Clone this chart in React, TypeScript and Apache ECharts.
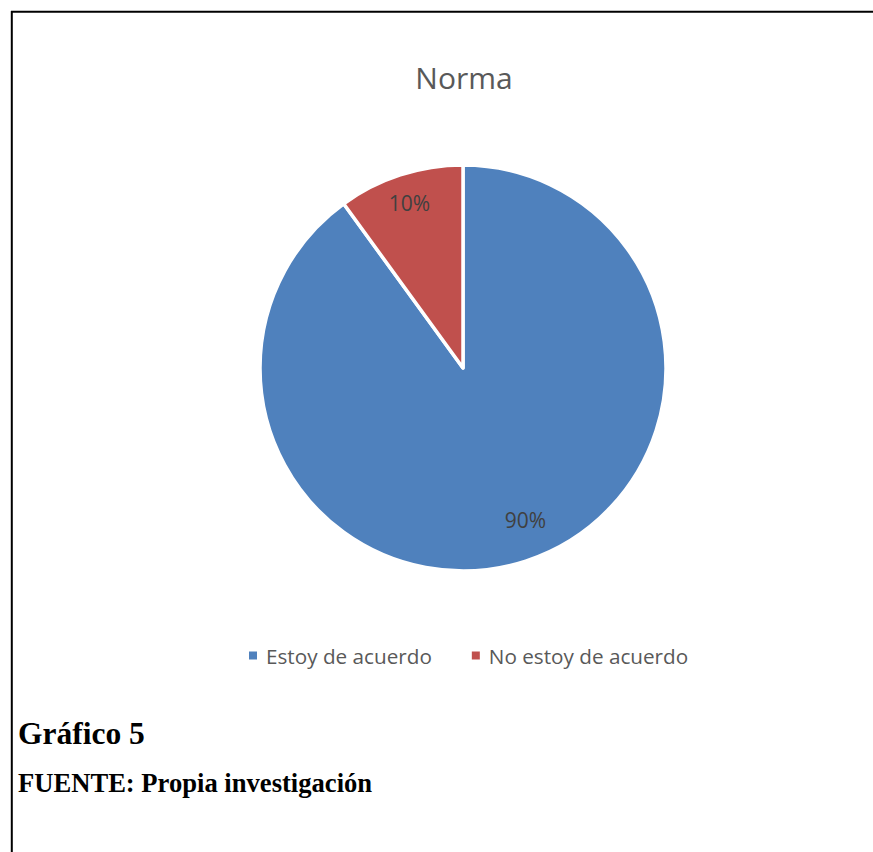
import React, { useEffect, useRef } from "react";
import * as echarts from "echarts";

const categories = ["Estoy de acuerdo", "No estoy de acuerdo"];
const values = [90, 10];
const colors = ["#4F81BD", "#C0504D"];
const chartTitle = "Norma";
const captionTitle = "Gráfico 5";
const captionSource = "FUENTE: Propia investigación";

const SANS = "'Open Sans', 'Noto Sans', sans-serif";
const SERIF = "'Liberation Serif', 'DejaVu Serif', serif";

export default function App() {
  const ref = useRef<HTMLDivElement>(null);
  useEffect(() => {
    if (!ref.current) return;
    const chart = echarts.init(ref.current, null, { renderer: "svg" });
    const data = categories.map((name, i) => ({
      name,
      value: values[i],
      itemStyle: { color: colors[i] },
    }));
    chart.setOption({
      animation: false,
      backgroundColor: "#ffffff",
      legend: {
        data: categories,
        left: 242,
        top: 640,
        icon: "rect",
        itemWidth: 10,
        itemHeight: 10,
        itemGap: 38,
        textStyle: {
          fontFamily: SANS,
          fontSize: 20.7,
          color: "#595959",
          padding: [0, 0, 0, 3],
        },
        selectedMode: false,
      },
      graphic: [
        {
          type: "line",
          shape: { x1: 11, y1: 11.8, x2: 873, y2: 11.8 },
          style: { stroke: "#000", lineWidth: 2 },
        },
        {
          type: "line",
          shape: { x1: 11.8, y1: 11, x2: 11.8, y2: 852 },
          style: { stroke: "#000", lineWidth: 2 },
        },
        {
          type: "text",
          x: 464,
          y: 77,
          style: {
            text: chartTitle,
            font: `30px ${SANS}`,
            fill: "#595959",
            align: "center",
            verticalAlign: "middle",
          },
        },
        {
          type: "text",
          x: 18,
          y: 733,
          style: {
            text: captionTitle,
            font: `bold 31.5px ${SERIF}`,
            fill: "#000",
            align: "left",
            verticalAlign: "middle",
          },
        },
        {
          type: "text",
          x: 18,
          y: 783,
          style: {
            text: captionSource,
            font: `bold 26.6px ${SERIF}`,
            fill: "#000",
            align: "left",
            verticalAlign: "middle",
          },
        },
      ],
      series: [
        {
          type: "pie",
          center: [463, 368],
          radius: [0, 203],
          startAngle: 90,
          clockwise: true,
          data,
          label: { show: false },
          labelLine: { show: false },
          itemStyle: { borderColor: "#ffffff", borderWidth: 3.5 },
          emphasis: { disabled: true },
          silent: true,
        },
        {
          type: "pie",
          center: [463, 368],
          radius: [140, 200],
          startAngle: 90,
          clockwise: true,
          data: categories.map((name, i) => ({
            name,
            value: values[i],
            label: i === 0 ? { offset: [9, -13] } : {},
          })),
          itemStyle: { color: "transparent", borderWidth: 0 },
          label: {
            show: true,
            position: "inside",
            formatter: "{d}%",
            fontFamily: SANS,
            fontSize: 21,
            color: "#404040",
          },
          labelLine: { show: false },
          emphasis: { disabled: true },
          silent: true,
        },
      ],
    });
    return () => chart.dispose();
  }, []);
  return (
    <div
      ref={ref}
      style={{ position: "absolute", left: 0, top: 0, width: 873, height: 852 }}
    />
  );
}
